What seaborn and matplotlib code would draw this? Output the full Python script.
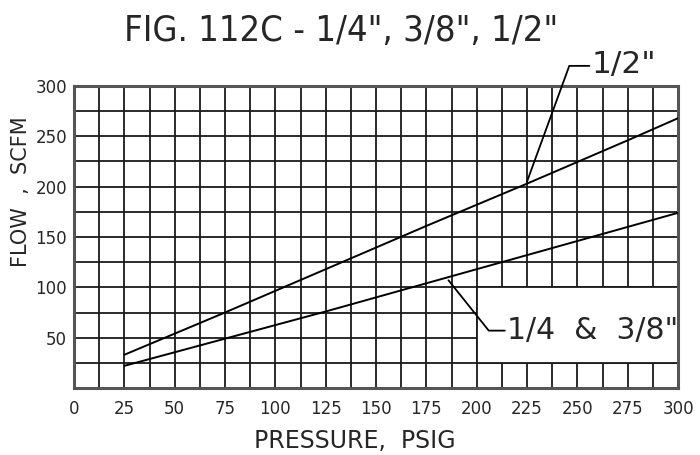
import matplotlib
matplotlib.use("Agg")
import matplotlib.pyplot as plt
import seaborn as sns
import pandas as pd
import numpy as np
from matplotlib.patches import Rectangle

# ---- data ----
pressure = [25, 75, 125, 175, 225, 275, 300]
flow_half = [33, 75, 118, 161, 203, 246, 268]        # 1/2"
flow_quarter = [22, 49, 76, 104, 132, 160, 174]      # 1/4 & 3/8"
series_names = ['1/2"', '1/4 & 3/8"']
label_texts = ['1/2"', '1/4  &  3/8"']
x_ticks = [0, 25, 50, 75, 100, 125, 150, 175, 200, 225, 250, 275, 300]
y_ticks = [50, 100, 150, 200, 250, 300]
title = 'FIG. 112C - 1/4", 3/8", 1/2"'
x_label = 'PRESSURE,  PSIG'
y_label = 'FLOW  ,  SCFM'

df = pd.DataFrame({
    'pressure': pressure * 2,
    'flow': flow_half + flow_quarter,
    'size': [series_names[0]] * len(pressure) + [series_names[1]] * len(pressure),
})

sns.set_style("white")
plt.rcParams['font.family'] = ['DejaVu Sans']
TXT = '#262626'

fig = plt.figure(figsize=(7, 4.55), dpi=100)
ax = fig.add_axes([74 / 700, 1 - 388 / 455, (678 - 74) / 700, (388 - 86) / 455])

GRID = '#1a1a1a'
ax.set_xlim(0, 300)
ax.set_ylim(0, 300)
ax.set_xticks(x_ticks)
ax.set_xticks(np.arange(0, 301, 12.5), minor=True)
ax.set_yticks(y_ticks)
ax.set_yticks(np.arange(0, 301, 25), minor=True)
ax.grid(True, which='both', color=GRID, linewidth=1.3)
ax.set_axisbelow(True)
ax.tick_params(which='both', length=0, labelsize=12, colors=TXT)
ax.tick_params(axis='x', pad=9)
ax.tick_params(axis='y', pad=5)
for s in ax.spines.values():
    s.set_color('#555')
    s.set_linewidth(2.2)

ax.add_patch(Rectangle((200, 25), 100, 75, facecolor='white', edgecolor=GRID,
                       linewidth=1.3, zorder=1.5))

sns.lineplot(data=df, x='pressure', y='flow', units='size', estimator=None,
             color='black', linewidth=1.4, ax=ax, zorder=3, legend=False)

ax.set_xlabel(x_label, fontsize=17, color=TXT)
ax.xaxis.set_label_coords(0.465, -0.135)
ax.set_ylabel(y_label, fontsize=15, color=TXT)
ax.yaxis.set_label_coords(-0.071, 0.65)

ax.plot([256, 246, 225], [320, 320, 205], color='black', linewidth=1.3,
        clip_on=False, zorder=4)
ax.text(257, 321, label_texts[0], fontsize=22.5, va='center', ha='left',
        color=TXT, clip_on=False)
ax.plot([214, 206, 186], [57, 57, 107], color='black', linewidth=1.3,
        clip_on=False, zorder=4)
ax.text(215, 57, label_texts[1], fontsize=21.5, va='center', ha='left',
        color=TXT, clip_on=False)

fig.text(0.488, 0.932, title, fontsize=26, ha='center', va='center', color=TXT,
         fontstretch='condensed')

fig.savefig('out.png', dpi=100, facecolor='white')
